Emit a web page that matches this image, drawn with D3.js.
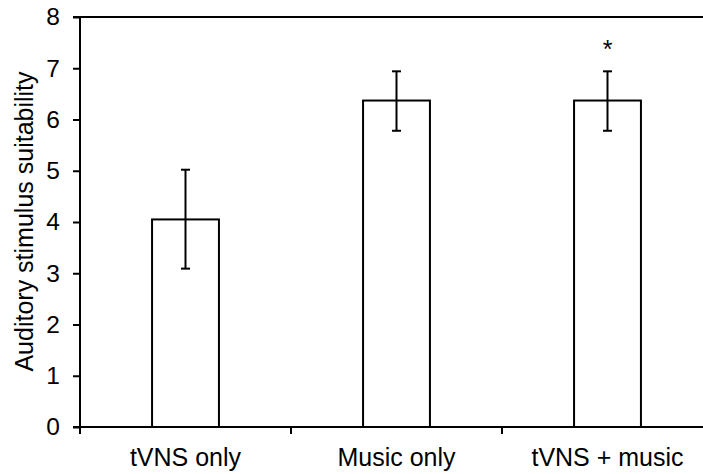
<!DOCTYPE html>
<html><head><meta charset="utf-8">
<script src="https://cdn.jsdelivr.net/npm/d3@7"></script>
<style>body{margin:0;background:#fff}svg{display:block}text{font-family:"Liberation Sans",Arial,sans-serif;fill:#000}</style>
</head><body>
<svg id="c" width="703" height="474"></svg>
<script>
const categories = ["tVNS only", "Music only", "tVNS + music"];
const means = [4.05, 6.37, 6.37];
const errUpper = [5.02, 6.94, 6.94];
const errLower = [3.09, 5.78, 5.78];
const significance = ["", "", "*"];
const yTicks = [0, 1, 2, 3, 4, 5, 6, 7, 8];
const yTitle = "Auditory stimulus suitability";

(function () {
const svg = d3.select("#c");
const mL = 80, mR = 713, mT = 17, mB = 427;
const x = d3.scaleBand().domain(categories).range([mL, mR]).paddingInner(0).paddingOuter(0);
const y = d3.scaleLinear().domain([0, 8]).range([mB, mT]);
const barW = x.bandwidth() * 0.317;

// top line at max
svg.append("line").attr("x1", 73).attr("x2", 703).attr("y1", y(8)).attr("y2", y(8))
  .attr("stroke", "#000").attr("stroke-width", 2);

// y axis
const yAxis = svg.append("g").attr("transform", `translate(${mL},0)`)
  .call(d3.axisLeft(y).tickValues(yTicks).tickSize(7).tickPadding(13).tickFormat(d3.format("d")));
yAxis.select(".domain").attr("stroke", "#000").attr("stroke-width", 2).attr("d", `M0,${mB + 6}V${mT}`);
yAxis.selectAll(".tick line").attr("stroke", "#000").attr("stroke-width", 2);
yAxis.selectAll(".tick text").attr("font-size", 24.5).attr("fill", "#000")
  .attr("font-family", "Liberation Sans, Arial, sans-serif");

// bars
svg.append("g").selectAll("rect").data(categories).join("rect")
  .attr("x", d => x(d) + x.bandwidth() / 2 - barW / 2)
  .attr("width", barW)
  .attr("y", (d, i) => y(means[i]))
  .attr("height", (d, i) => y(0) - y(means[i]))
  .attr("fill", "#fff").attr("stroke", "#000").attr("stroke-width", 2);

// x axis line
svg.append("line").attr("x1", 73).attr("x2", 703).attr("y1", mB).attr("y2", mB)
  .attr("stroke", "#000").attr("stroke-width", 2);
// x ticks at band boundaries
const bounds = categories.map(c => x(c)).concat([mR]).filter(v => v <= 703);
svg.append("g").selectAll("line").data(bounds).join("line")
  .attr("x1", d => d).attr("x2", d => d).attr("y1", mB).attr("y2", mB + 7)
  .attr("stroke", "#000").attr("stroke-width", 2);
// x labels
svg.append("g").selectAll("text").data(categories).join("text")
  .attr("x", d => x(d) + x.bandwidth() / 2).attr("y", 466)
  .attr("text-anchor", "middle").attr("font-size", 25).text(d => d);

// error bars
const capW = 9;
const eb = svg.append("g").attr("stroke", "#000").attr("stroke-width", 2);
categories.forEach((c, i) => {
  const cx = x(c) + x.bandwidth() / 2;
  eb.append("line").attr("x1", cx).attr("x2", cx).attr("y1", y(errLower[i])).attr("y2", y(errUpper[i]));
  eb.append("line").attr("x1", cx - capW / 2).attr("x2", cx + capW / 2).attr("y1", y(errLower[i])).attr("y2", y(errLower[i]));
  eb.append("line").attr("x1", cx - capW / 2).attr("x2", cx + capW / 2).attr("y1", y(errUpper[i])).attr("y2", y(errUpper[i]));
});
// significance
svg.append("g").selectAll("text").data(categories).join("text")
  .attr("x", d => x(d) + x.bandwidth() / 2).attr("y", (d, i) => y(errUpper[i]) - 13)
  .attr("text-anchor", "middle").attr("font-size", 25).text((d, i) => significance[i]);

// y title
svg.append("text").attr("transform", `translate(33,${(70 + 373) / 2}) rotate(-90)`)
  .attr("text-anchor", "middle").attr("font-size", 25).text(yTitle);
})();
</script>
</body></html>
